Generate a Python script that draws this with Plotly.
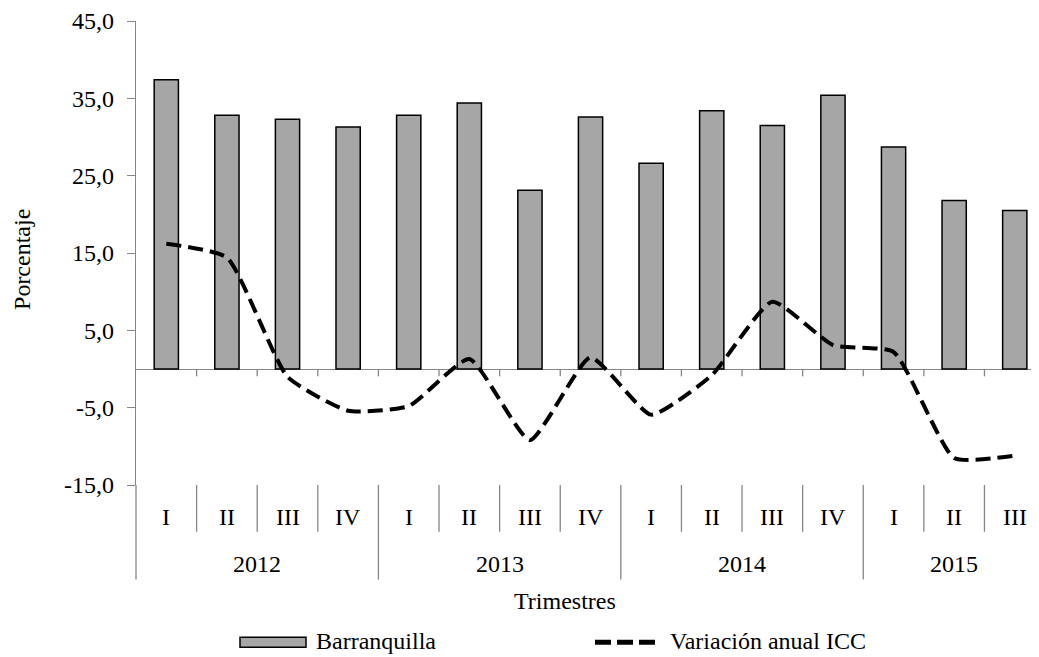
import plotly.graph_objects as go

# ---- data ----
years = ["2012", "2013", "2014", "2015"]
quarters_per_year = [4, 4, 4, 3]
quarter_labels = ["I", "II", "III", "IV", "I", "II", "III", "IV",
                  "I", "II", "III", "IV", "I", "II", "III"]
barranquilla = [37.4, 32.8, 32.3, 31.3, 32.8, 34.4, 23.1, 32.6,
                26.6, 33.4, 31.5, 35.4, 28.7, 21.8, 20.5]
variacion_icc = [16.2, 14.4, -1.0, -5.4, -4.8, 1.3, -9.2, 1.5,
                 -5.9, -0.8, 8.7, 3.1, 2.2, -11.5, -11.2]
y_ticks = [-15, -5, 5, 15, 25, 35, 45]
y_ticktext = [f"{v:.1f}".replace(".", ",") for v in y_ticks]
series_names = ["Barranquilla", "Variación anual ICC"]
x_title = "Trimestres"
y_title = "Porcentaje"

# ---- layout constants (page has an 8px body margin) ----
OFF = 8
W, H = 1039 - OFF, 657 - OFF
PLOT_L, PLOT_R, PLOT_T, PLOT_B = 136, 1039, 19, 485   # in screenshot pixels
ML, MR, MT = PLOT_L - OFF, W - (PLOT_R - OFF), PLOT_T - OFF
MB = H - (PLOT_B - OFF)
PH = PLOT_B - PLOT_T
PW = PLOT_R - PLOT_L
FONT = "Liberation Serif"
FS = 24
AXC = "#868686"


def py(pix):  # screenshot pixel y -> paper y
    return (PLOT_B - pix) / PH


def px(pix):  # screenshot pixel x -> paper x
    return (pix - PLOT_L) / PW


x = list(range(len(quarter_labels)))

fig = go.Figure()
fig.add_trace(go.Bar(
    x=x, y=barranquilla, name=series_names[0],
    marker=dict(color="#A6A6A6", line=dict(color="black", width=1.5)),
    width=0.40, showlegend=False,
))
fig.add_trace(go.Scatter(
    x=x, y=variacion_icc, name=series_names[1], mode="lines",
    line=dict(color="black", width=4, dash="15px,7px", shape="spline", smoothing=0.5),
    showlegend=False, cliponaxis=False,
))

shapes = []
annotations = []
n = len(quarter_labels)
tf = dict(family=FONT, size=FS, color="black")

# ticks on zero line
for k in range(n - 1):
    shapes.append(dict(type="line", xref="x", yref="y", x0=k + 0.5, x1=k + 0.5,
                       y0=0, y1=-0.95, line=dict(color=AXC, width=1.3)))

# y-axis line extension into category area
shapes.append(dict(type="line", xref="paper", yref="paper", x0=0, x1=0,
                   y0=0, y1=py(580), line=dict(color=AXC, width=1.3)))

# quarter / year separators and labels
year_bounds = []
start = 0
for cnt in quarters_per_year:
    year_bounds.append((start, start + cnt))
    start += cnt
year_ends = {b[1] for b in year_bounds}
for k in range(n - 1):
    bottom = 580 if (k + 1) in year_ends else 532
    shapes.append(dict(type="line", xref="x", yref="paper", x0=k + 0.5, x1=k + 0.5,
                       y0=0, y1=py(bottom), line=dict(color=AXC, width=1.3)))

for k, lab in enumerate(quarter_labels):
    annotations.append(dict(x=k, y=py(517), xref="x", yref="paper", text=lab,
                            showarrow=False, font=tf,
                            xanchor="center", yanchor="middle"))
for yr, (a, b) in zip(years, year_bounds):
    annotations.append(dict(x=(a + b - 1) / 2, y=py(564), xref="x", yref="paper", text=yr,
                            showarrow=False, font=tf,
                            xanchor="center", yanchor="middle"))

# axis titles
annotations.append(dict(x=px(565), y=py(601), xref="paper", yref="paper", text=x_title,
                        showarrow=False, font=tf,
                        xanchor="center", yanchor="middle"))
annotations.append(dict(x=px(22), y=py(259), xref="paper", yref="paper", text=y_title,
                        showarrow=False, textangle=-90, font=tf,
                        xanchor="center", yanchor="middle"))

# legend (drawn manually)
shapes.append(dict(type="rect", xref="paper", yref="paper",
                   x0=px(240), x1=px(306), y0=py(648), y1=py(638),
                   fillcolor="#A6A6A6", line=dict(color="black", width=1.5)))
annotations.append(dict(x=px(314), y=py(642), xref="paper", yref="paper", text=series_names[0],
                        showarrow=False, font=tf,
                        xanchor="left", yanchor="middle"))
shapes.append(dict(type="line", xref="paper", yref="paper",
                   x0=px(595), x1=px(656), y0=py(643), y1=py(643),
                   line=dict(color="black", width=5, dash="16px,6px")))
annotations.append(dict(x=px(668), y=py(642), xref="paper", yref="paper", text=series_names[1],
                        showarrow=False, font=tf,
                        xanchor="left", yanchor="middle"))

fig.update_layout(
    width=W, height=H,
    margin=dict(l=ML, r=MR, t=MT, b=MB, pad=0),
    paper_bgcolor="white", plot_bgcolor="white",
    separators=",.",
    font=tf,
    shapes=shapes, annotations=annotations,
    xaxis=dict(range=[-0.5, 14.4], showticklabels=False, showgrid=False,
               zeroline=False, showline=False, ticks=""),
    yaxis=dict(range=[-15, 45], tickvals=y_ticks, ticktext=y_ticktext,
               showgrid=False, showline=True, linecolor=AXC, linewidth=1.3,
               ticks="outside", ticklen=8, tickcolor=AXC, tickwidth=1.3,
               zeroline=True, zerolinecolor=AXC, zerolinewidth=1.3,
               ticklabelstandoff=8, ticklabeloverflow="allow", tickfont=tf),
    showlegend=False,
)

fig.write_html("out.html")
